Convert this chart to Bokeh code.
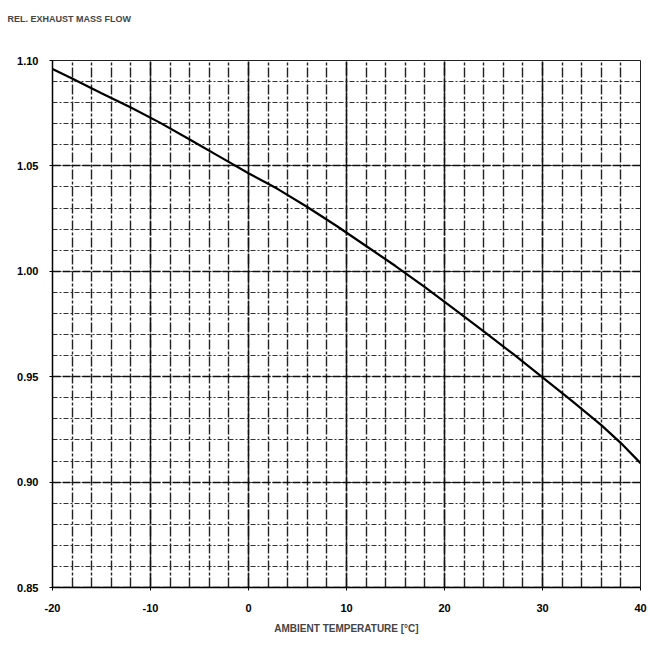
from bokeh.plotting import figure
from bokeh.models import SingleIntervalTicker, Range1d, PrintfTickFormatter, Title
from bokeh.embed import file_html
from bokeh.resources import INLINE

# Data
temperature_c = [-20, -18, -15, -12, -9, -6, -3, 0, 3, 6, 9, 12, 15, 18, 21, 24, 27, 30, 33, 36, 38, 40]
rel_exhaust_mass_flow = [1.096, 1.0915, 1.0845, 1.0777, 1.0704, 1.0625, 1.0545, 1.0465, 1.039, 1.0305,
                         1.0215, 1.012, 1.0025, 0.9925, 0.982, 0.9715, 0.9608, 0.9497, 0.9385, 0.927,
                         0.9185, 0.909]
x_tick_labels = {-20: "-20", -10: "-10", 0: "0", 10: "10", 20: "20", 30: "30", 40: "40"}
title_text = "REL. EXHAUST MASS FLOW"
x_label = "AMBIENT TEMPERATURE [°C]"

FONT = "Liberation Sans"

p = figure(width=650, height=645, output_backend="svg", toolbar_location=None,
           x_range=Range1d(-20, 40), y_range=Range1d(0.85, 1.10),
           min_border_left=52, min_border_right=10, min_border_top=0, min_border_bottom=58)
p.background_fill_color = "white"
p.border_fill_color = "white"
p.outline_line_color = "#222222"
p.outline_line_width = 1

# spacer between the chart title and the frame
p.add_layout(Title(text=" ", text_font_size="9px", standoff=14), "above")

p.title.text = title_text
p.title.text_font = FONT
p.title.text_font_style = "bold"
p.title.text_font_size = "9px"
p.title.align = "left"
p.title.offset = -45
p.title.standoff = 22

# axes
p.xaxis.ticker = SingleIntervalTicker(interval=10, num_minor_ticks=5)
p.yaxis.ticker = SingleIntervalTicker(interval=0.05, num_minor_ticks=5)
p.yaxis.formatter = PrintfTickFormatter(format="%.2f")
p.xaxis.major_label_overrides = x_tick_labels
for ax in (p.xaxis[0], p.yaxis[0]):
    ax.major_label_text_font = FONT
    ax.major_label_text_font_style = "bold"
    ax.major_label_text_font_size = "11px"
    ax.major_label_text_color = "black"
    ax.axis_line_color = "black"
    ax.axis_line_width = 1.5
    ax.major_tick_line_color = "black"
    ax.major_tick_in = 0
    ax.major_tick_out = 3
    ax.minor_tick_line_color = None
p.xaxis.major_label_standoff = 12
p.yaxis.major_label_standoff = 10
p.xaxis.axis_label = x_label
p.xaxis.axis_label_text_font = FONT
p.xaxis.axis_label_text_font_style = "bold"
p.xaxis.axis_label_text_font_size = "10px"
p.xaxis.axis_label_standoff = 8

# grid (scanned graph paper look)
p.xgrid.grid_line_color = "#111111"
p.xgrid.grid_line_width = 1.5
p.xgrid.grid_line_dash = "14 2"
p.xgrid.minor_grid_line_color = "#222222"
p.xgrid.minor_grid_line_width = 1.4
p.xgrid.minor_grid_line_dash = "10 2 3 2"
p.ygrid.grid_line_color = "#111111"
p.ygrid.grid_line_width = 1.3
p.ygrid.grid_line_dash = "8 2"
p.ygrid.minor_grid_line_color = "#333333"
p.ygrid.minor_grid_line_width = 1.1
p.ygrid.minor_grid_line_dash = "5 2 2 2"

# curve
p.line(temperature_c, rel_exhaust_mass_flow, line_color="black", line_width=2.2)

open("out.html", "w").write(file_html(p, INLINE))
